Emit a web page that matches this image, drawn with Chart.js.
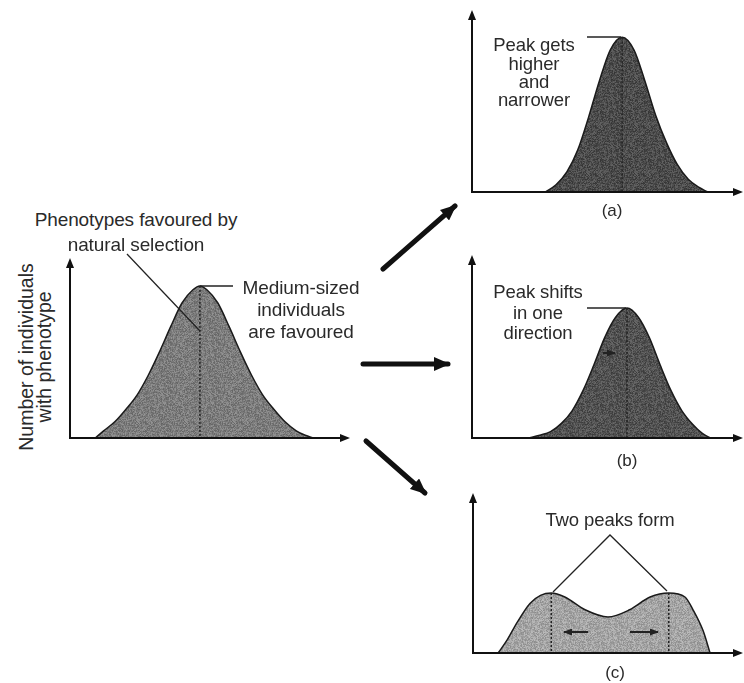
<!DOCTYPE html>
<html>
<head>
<meta charset="utf-8">
<script src="https://cdn.jsdelivr.net/npm/chart.js@4.4.0/dist/chart.umd.min.js"></script>
<style>
  body { margin: 0; width: 744px; height: 683px; overflow: hidden; background: #fff; position: relative;
         font-family: "Liberation Sans", Arial, sans-serif; color: #2a2a2a; }
  canvas { position: absolute; }
  .t { position: absolute; transform: translate(-50%, -50%); white-space: nowrap; font-size: 19px; letter-spacing: -0.1px; }
  .s { font-size: 18.5px; }
  .lab { font-size: 17px; }
  .rot { position: absolute; transform: translate(-50%, -50%) rotate(-90deg); white-space: nowrap; font-size: 19.5px; letter-spacing: 0px; text-align: center; }
  svg { position: absolute; left: 0; top: 0; pointer-events: none; }
</style>
</head>
<body>
<canvas id="mainChart"></canvas>
<canvas id="chartA"></canvas>
<canvas id="chartB"></canvas>
<canvas id="chartC"></canvas>

<!-- labels -->
<div class="rot" style="left:26px;top:357px">Number of individuals</div>
<div class="rot" style="left:44px;top:357px">with phenotype</div>
<div class="t" style="left:136px;top:220px">Phenotypes favoured by</div>
<div class="t" style="left:136px;top:245px">natural selection</div>
<div class="t" style="left:301px;top:288px">Medium-sized</div>
<div class="t" style="left:301px;top:310px">individuals</div>
<div class="t" style="left:301px;top:332px">are favoured</div>
<div class="t s" style="left:534px;top:45px">Peak gets</div>
<div class="t s" style="left:534px;top:64px">higher</div>
<div class="t s" style="left:534px;top:82px">and</div>
<div class="t s" style="left:534px;top:100px">narrower</div>
<div class="t s" style="left:538px;top:292px">Peak shifts</div>
<div class="t s" style="left:538px;top:313px">in one</div>
<div class="t s" style="left:538px;top:333px">direction</div>
<div class="t s" style="left:610px;top:520px">Two peaks form</div>
<div class="t lab" style="left:612px;top:211px">(a)</div>
<div class="t lab" style="left:627px;top:461px">(b)</div>
<div class="t lab" style="left:615px;top:673px">(c)</div>

<!-- arrows and leader lines -->
<svg width="744" height="683">
  <defs>
    <marker id="big" markerWidth="16" markerHeight="14" refX="14" refY="7" orient="auto" markerUnits="userSpaceOnUse">
      <path d="M0,0 L16,7 L0,14 Z" fill="#111"/>
    </marker>
    <marker id="small" markerWidth="9" markerHeight="7" refX="8" refY="3.5" orient="auto" markerUnits="userSpaceOnUse">
      <path d="M0,0 L9,3.5 L0,7 Z" fill="#222"/>
    </marker>
  </defs>
  <g stroke="#111" stroke-width="5" stroke-linecap="round">
    <line x1="383" y1="269" x2="455" y2="206" marker-end="url(#big)"/>
    <line x1="363" y1="364" x2="448" y2="364" marker-end="url(#big)"/>
    <line x1="366" y1="441" x2="425" y2="493" marker-end="url(#big)"/>
  </g>
  <g stroke="#222" stroke-width="1.3" fill="none">
    <line x1="127" y1="254" x2="200" y2="331"/>
    <line x1="200" y1="286" x2="233" y2="286"/>
    <line x1="587" y1="37" x2="621" y2="37"/>
    <line x1="587" y1="308" x2="626" y2="308"/>
    <polyline points="553,592 610,535 667,591"/>
  </g>
  <g stroke="#222" stroke-width="2">
    <line x1="588" y1="632" x2="564" y2="632" marker-end="url(#small)"/>
    <line x1="630" y1="632" x2="658" y2="632" marker-end="url(#small)"/>
    <line x1="603" y1="353" x2="615" y2="353" marker-end="url(#small)"/>
  </g>
</svg>

<script>
// Distribution curves (x and y in 0-100 axis units)
const mainX = [9, 12, 16, 20, 24, 28, 32, 36, 40, 44, 46.4, 48.8, 52.8, 56.8, 60.8, 64.8, 68.8, 72.8, 76.8, 80.8, 84, 87];
const mainY = [0, 4, 9, 16, 24, 35, 48, 62, 75, 82.5, 84.5, 82.5, 75, 62, 48, 35, 24, 16, 9, 4, 1.5, 0];
const mainPeaks = [46.4];

const aX = [27, 31, 35, 39, 43, 47, 51, 55.4, 59.8, 63.8, 67.8, 71.8, 75.8, 79.8, 83.8, 87];
const aY = [0, 4, 11, 23, 41, 61, 78, 85, 78, 61, 42, 27, 15, 7, 2.5, 0];
const aPeaks = [55.4];

const bX = [20.7, 25, 29, 33, 37, 41, 45, 49, 53, 57.2, 61.4, 65.4, 69.4, 73.4, 77.4, 81.4, 85, 88];
const bY = [0, 1.5, 3.5, 8, 15, 26, 40, 55, 66, 71, 66, 55, 40, 26, 15, 7.5, 2.5, 0];
const bPeaks = [57.2];

const cX = [9.3, 12.6, 16.3, 21.1, 25, 29, 34, 41.5, 50, 58, 65.6, 72.5, 78.5, 81.5, 85.2, 87.8];
const cY = [0, 8, 19, 31, 36, 37.5, 35, 27, 22.5, 27, 35, 37.5, 35, 27, 14, 0];
const cPeaks = [29, 72.5];

// grainy gray fill, like the stippled print (fixed hash, only a texture)
function grain(base) {
  const n = 48;
  const c = document.createElement('canvas');
  c.width = n; c.height = n;
  const g = c.getContext('2d');
  for (let x = 0; x < n; x++) {
    for (let y = 0; y < n; y++) {
      let h = Math.imul(x, 374761393) + Math.imul(y, 668265263);
      h = Math.imul(h ^ (h >>> 13), 1274126177);
      h = (h ^ (h >>> 16)) >>> 0;
      const k = (h % 49) - 24;
      const v = Math.max(0, Math.min(255, base + k));
      g.fillStyle = 'rgb(' + v + ',' + v + ',' + v + ')';
      g.fillRect(x, y, 1, 1);
    }
  }
  return g.createPattern(c, 'repeat');
}

// axes with arrowheads + dotted line under each peak
const axesPlugin = {
  id: 'axesPlugin',
  afterDatasetsDraw(chart, args, opts) {
    const { ctx, chartArea: a, scales } = chart;
    const ds = chart.data.datasets[0].data;
    ctx.save();
    ctx.strokeStyle = '#222';
    ctx.lineWidth = 1.5;
    ctx.setLineDash([2, 2]);
    opts.peaks.forEach(px => {
      const p = ds.find(d => d.x === px);
      const x = scales.x.getPixelForValue(px);
      ctx.beginPath();
      ctx.moveTo(x, scales.y.getPixelForValue(p.y));
      ctx.lineTo(x, scales.y.getPixelForValue(0));
      ctx.stroke();
    });
    ctx.setLineDash([]);
    ctx.strokeStyle = '#111';
    ctx.fillStyle = '#111';
    ctx.lineWidth = 2;
    ctx.beginPath();
    ctx.moveTo(a.left, a.top + 6);
    ctx.lineTo(a.left, a.bottom);
    ctx.lineTo(a.right - 6, a.bottom);
    ctx.stroke();
    // arrow heads
    ctx.beginPath();
    ctx.moveTo(a.left, a.top);
    ctx.lineTo(a.left - 4, a.top + 10);
    ctx.lineTo(a.left + 4, a.top + 10);
    ctx.closePath();
    ctx.fill();
    ctx.beginPath();
    ctx.moveTo(a.right, a.bottom);
    ctx.lineTo(a.right - 10, a.bottom - 4);
    ctx.lineTo(a.right - 10, a.bottom + 4);
    ctx.closePath();
    ctx.fill();
    ctx.restore();
  }
};

function makeChart(id, box, xs, ys, fill, peaks) {
  const pad = 10;
  const canvas = document.getElementById(id);
  canvas.style.left = (box[0] - pad) + 'px';
  canvas.style.top = (box[1] - pad) + 'px';
  canvas.width = box[2] - box[0] + 2 * pad;
  canvas.height = box[3] - box[1] + 2 * pad;
  return new Chart(canvas, {
    type: 'line',
    data: {
      datasets: [{
        data: xs.map((x, i) => ({ x: x, y: ys[i] })),
        fill: 'origin',
        backgroundColor: grain(fill),
        borderColor: '#1a1a1a',
        borderWidth: 1.5,
        pointRadius: 0,
        cubicInterpolationMode: 'monotone'
      }]
    },
    options: {
      responsive: false,
      animation: false,
      layout: { padding: pad },
      plugins: { legend: { display: false }, tooltip: { enabled: false }, axesPlugin: { peaks: peaks } },
      scales: {
        x: { type: 'linear', min: 0, max: 100, display: false },
        y: { min: 0, max: 100, display: false }
      }
    },
    plugins: [axesPlugin]
  });
}

// chart boxes: left, top, right, bottom (pixels of the plot area)
makeChart('mainChart', [70, 258, 350, 438], mainX, mainY, 124, mainPeaks);
makeChart('chartA', [472, 10, 743, 192], aX, aY, 76, aPeaks);
makeChart('chartB', [472, 255, 743, 438], bX, bY, 82, bPeaks);
makeChart('chartC', [473, 493, 743, 653], cX, cY, 164, cPeaks);
</script>
</body>
</html>
